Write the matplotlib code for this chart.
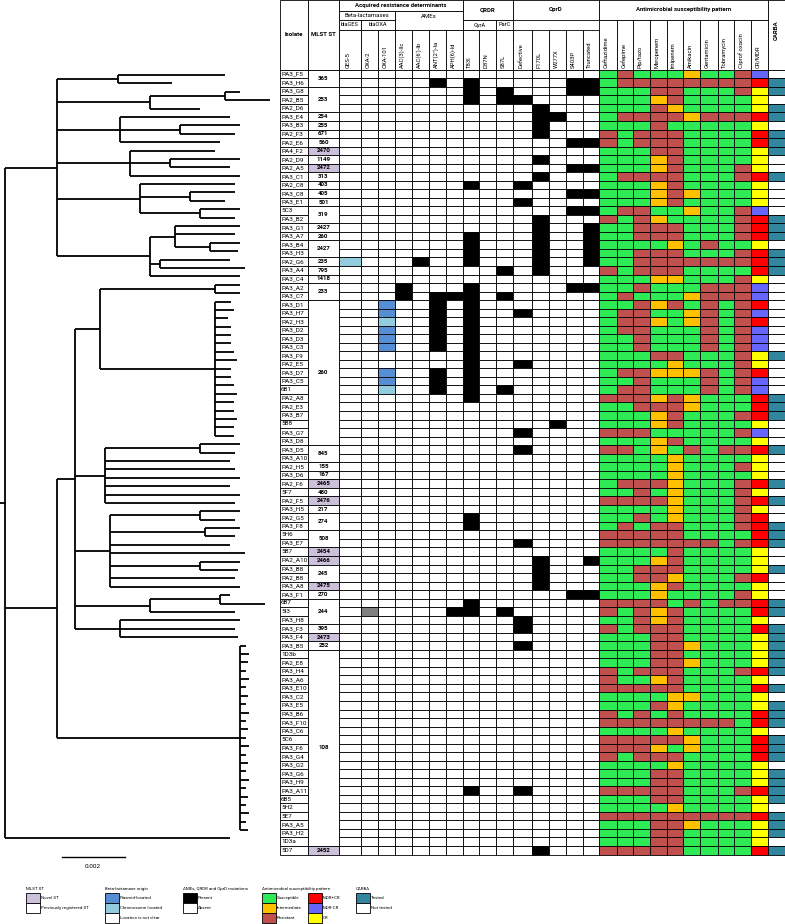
import matplotlib
matplotlib.use('Agg')
import matplotlib.pyplot as plt
from matplotlib.patches import Rectangle

plt.rcParams['font.family'] = ['Roboto', 'DejaVu Sans']

isolates = ['PA3_F5', 'PA3_H6', 'PA3_G8', 'PA2_B5', 'PA2_D6', 'PA3_E4', 'PA3_B3', 'PA2_F3', 'PA2_E6', 'PA4_F2',
            'PA2_D9', 'PA2_A5', 'PA3_C1', 'PA2_C8', 'PA3_C8', 'PA3_E1', '5C3', 'PA3_B2', 'PA3_G1', 'PA3_A7',
            'PA3_B4', 'PA3_H3', 'PA2_G6', 'PA3_A4', 'PA3_C4', 'PA3_A2', 'PA3_C7', 'PA3_D1', 'PA3_H7', 'PA2_H3',
            'PA3_D2', 'PA3_D3', 'PA3_C3', 'PA3_F9', 'PA2_E5', 'PA3_D7', 'PA3_C5', '6B1', 'PA2_A8', 'PA2_E3',
            'PA3_B7', '5B8', 'PA3_G7', 'PA3_D8', 'PA3_D5', 'PA3_A10', 'PA2_H5', 'PA3_D6', 'PA2_F6', '5F7',
            'PA2_F5', 'PA3_H5', 'PA2_G5', 'PA3_F8', '5H6', 'PA3_E7', '5B7', 'PA2_A10', 'PA3_B8', 'PA2_B8',
            'PA3_A8', 'PA3_F1', '6B7', '5I3', 'PA3_H8', 'PA3_F3', 'PA3_F4', 'PA3_B5', '1D3b', 'PA2_E8',
            'PA3_H4', 'PA3_A6', 'PA3_E10', 'PA3_C2', 'PA3_E5', 'PA3_B6', 'PA3_F10', 'PA3_C6', '5C6', 'PA3_F6',
            'PA3_G4', 'PA3_G2', 'PA3_G6', 'PA3_H9', 'PA3_A11', '6B5', '5H2', '5E7', 'PA3_A5', 'PA3_H2',
            '1D3a', '5D7']

# MLST ST, merged over consecutive rows
mlst_st = ['365', '253', '254', '255', '671', '560', '2470', '1149', '2472', '313', '403', '405', '501',
           '319', '2427', '260', '2427', '235', '795', '1418', '233', '260', '845', '155', '167', '2465',
           '480', '2476', '217', '274', '508', '2454', '2466', '245', '2475', '270', '244', '395', '2473',
           '252', '108', '2452']
mlst_span = [2, 3, 1, 1, 1, 1, 1, 1, 1, 1, 1, 1, 1, 2, 1, 1, 2, 1, 1, 1, 2, 17, 2, 1, 1, 1, 1, 1, 1,
             2, 2, 1, 1, 2, 1, 1, 3, 1, 1, 1, 23, 1]
novel_st = ['2470', '2472', '2465', '2476', '2454', '2466', '2475', '2473', '2452']

# beta-lactamases: P plasmid, C chromosome, U unclear
ges5 = {'PA2_G6': 'C'}
oxa2 = {'5I3': 'U'}
oxa101 = {'PA3_D1': 'P', 'PA3_H7': 'P', 'PA2_H3': 'C', 'PA3_D2': 'P', 'PA3_D3': 'P', 'PA3_C3': 'P',
          'PA3_D7': 'P', 'PA3_C5': 'P', '6B1': 'C'}

aac3 = ['PA3_A2', 'PA3_C7']
aac6 = ['PA2_G6']
ant2 = ['PA3_H6', 'PA3_C7', 'PA3_D1', 'PA3_H7', 'PA2_H3', 'PA3_D2', 'PA3_D3', 'PA3_C3', 'PA3_D7',
        'PA3_C5', '6B1']
aph6 = ['PA3_C7', '5I3']
t83i = ['PA3_H6', 'PA3_G8', 'PA2_B5', 'PA2_C8', 'PA3_A7', 'PA3_B4', 'PA3_H3', 'PA2_G6', 'PA3_A2',
        'PA3_C7', 'PA3_D1', 'PA3_H7', 'PA2_H3', 'PA3_D2', 'PA3_D3', 'PA3_C3', 'PA3_F9', 'PA2_E5',
        'PA3_D7', 'PA3_C5', '6B1', 'PA2_A8', 'PA2_G5', 'PA3_F8', '6B7', '5I3', 'PA3_A11']
d87n = []
s87l = ['PA3_G8', 'PA2_B5', 'PA3_A4', 'PA3_C7', '6B1', '5I3']
defective = ['PA2_B5', 'PA2_C8', 'PA3_E1', 'PA3_H7', 'PA2_E5', 'PA3_G7', 'PA3_D5', 'PA3_E7', 'PA3_H8',
             'PA3_F3', 'PA3_B5', 'PA3_A11']
f170l = ['PA2_D6', 'PA3_E4', 'PA3_B3', 'PA2_F3', 'PA2_D9', 'PA3_C1', 'PA3_B2', 'PA3_G1', 'PA3_A7',
         'PA3_B4', 'PA3_H3', 'PA2_G6', 'PA3_A4', 'PA2_A10', 'PA3_B8', 'PA2_B8', 'PA3_A8', '5D7']
w277x = ['PA3_E4', '5B8']
s403p = ['PA3_H6', 'PA3_G8', 'PA2_E6', 'PA2_A5', 'PA3_C8', '5C3', 'PA3_A2', 'PA3_F1']
truncated = ['PA3_H6', 'PA3_G8', 'PA2_E6', 'PA2_A5', 'PA3_C8', '5C3', 'PA3_G1', 'PA3_A7', 'PA3_B4',
             'PA3_H3', 'PA2_G6', 'PA3_A2', 'PA2_A10', 'PA3_F1']

drugs = ['Ceftazidime', 'Cefepime', 'Pip/tazo', 'Meropenem', 'Imipenem', 'Amikacin', 'Gentamicin',
         'Tobramycin', 'Ciprof oxacin']
# S susceptible, I intermediate, R resistant (one letter per drug)
susceptibility = ['SRSSSISSR', 'SRRRRRRRR', 'SSSRRSSSR', 'SSSIRSSSS', 'SSSRISSSS', 'SRRRRIRRR', 'SSSRSSSSS',
                  'RSRRRSSSS', 'RSRRRSSSS', 'SSSRRSSSS', 'SSSIRSSSS', 'SSSIRSSSR', 'SRRRRSSSR', 'SSSIRSSSS',
                  'SSSIRISSS', 'SSSIRSSSS', 'SRRSSISSR', 'RSRISSSSR', 'SSRRRSSSR', 'SSRRRSSSR', 'SSSSISRSS',
                  'SSRRRSSSR', 'SSRRRRRRR', 'RSRRRSSSS', 'SSSIISSSR', 'SSRSSSRRR', 'SRSSSIRRR', 'SSRIRSRSR',
                  'SRRSSIRSR', 'SRRISIRSR', 'SRRSSSRSR', 'SSRSSSRSR', 'SSRSSSRSR', 'SSSRRSSSR', 'SSSSISSSR',
                  'SRRIIIRSR', 'SSRSSSRSR', 'SRRSSSRSR', 'RRRIRISSS', 'SSRRRISSS', 'SSSIRSSSR', 'SSSIRSSSS',
                  'RRRSSSSSR', 'SSSIRSSSS', 'RRSISRSRR', 'SSSSISSSS', 'SSSSISSSR', 'SSSSISSSS', 'SRRRISSSR',
                  'SSRSISSSR', 'RRRRISSSR', 'SSSSISSSR', 'SSRSISSSR', 'SRSRRSSSR', 'RRRRRSSSS', 'RRRRRRRSR',
                  'SSSSRSSSS', 'SSSIRSSSS', 'SSRRRSSSS', 'SSRRISSSR', 'SSSIRSSSS', 'SSSISSSSR', 'RRRRSRSRR',
                  'RSRIRSSSS', 'SSRIRSSSS', 'RSRRRSSSS', 'SSSRRSSSS', 'SSSRRISSS', 'SSSRRSSSS', 'SSSRRISSS',
                  'RSRRRSSSR', 'RSSIRSSSS', 'RRRRRSSSS', 'SSSSIISSS', 'SSSRISSSS', 'RSRSRSSSS', 'RRRRRRRRS',
                  'SSSSISSSS', 'RRRRRISSS', 'RRRISISSS', 'RSRRRSSSS', 'SSSSISSSS', 'SSSRRSSSS', 'SSSRRSSSS',
                  'RRRRRSSSR', 'SSSRRSSSS', 'SSSSISSSS', 'RRRRRRRRR', 'SSSRRISSS', 'SSSRRSSSS', 'SSSRRSSSS',
                  'RRRRRSSSS']
# M = MDR+CR, B = MDR-CR, C = CR
cr_mdr = ('BMCCCMCMMC' 'CCMCCCBMMM' 'CMMMCBBMBM' 'BBBCCMBBMM' 'MCBCMCCCMC'
          'MCMMMMCCCM' 'CCMMCMCCCC' 'MCMCCMMCMM' 'MCCCMCCMCC' 'CM')
carba = ('0110110111' '0010000111' '0111000000' '0001000011' '1000100010'
         '1001110010' '0011011111' '1010111011' '1011110111' '01')

# tree, branch lengths in units of 1e-4 substitutions/site
tree_a = ('((PA3_F5:33.9,PA3_H6:17.1):19.4,((PA3_G8:4.8,PA2_B5:14.3):23.8,PA2_D6:15.9):29.5,'
          '(PA3_E4:34.9,(PA3_B3:19,PA2_F3:17.4):19.1,PA2_E6:31.8):20,'
          '(PA4_F2:27,(PA2_D9:22.2,PA2_A5:19):12.7,PA3_C1:34.9):23.2,'
          '(PA2_C8:30.1,(PA3_C8:14.3,PA3_E1:11.1):15.8,(5C3:12.7,PA3_B2:11.1):19):26.4,'
          '((PA3_G1:20.6,PA3_A7:19,(PA3_B4:9.5,PA3_H3:8.9):11.1):8,(PA2_G6:22.2,PA3_A4:27):3.2,'
          'PA3_C4:28.6):29.5):16.5')
tree_b = ('((((PA3_A2:7.9,PA3_C7:7.9):36.5,(PA3_D1:5,PA3_H7:6,PA2_H3:4,PA3_D2:5,PA3_D3:5,PA3_C3:5,'
          'PA3_F9:6,PA2_E5:7,PA3_D7:5,PA3_C5:5,6B1:6,PA2_A8:7,PA2_E3:6,PA3_B7:6,5B8:7,PA3_G7:6,'
          'PA3_D8:6):36.5):8,'
          '((PA3_D5:12.7,PA3_A10:11.1):30.2,PA2_H5:39.7,PA3_D6:41.3,PA2_F6:42.9,5F7:39.7,PA2_F5:42.9,'
          'PA3_H5:41.3):9.5,'
          '((PA2_G5:12.7,PA3_F8:11.1):28.6,(5H6:11.1,PA3_E7:9.5):30.2,5B7:38.1,PA2_A10:42.9,'
          '(PA3_B8:12.7,PA2_B8:12.1):28.6,PA3_A8:39.7,PA3_F1:41.3):11.1,'
          '((6B7:3.1,5I3:14.2):22.3,PA3_H8:27):23.8,(PA3_F3:38.1,PA3_F4:36.5,PA3_B5:37.5):14.3):5.7,'
          '(1D3b:2,PA2_E8:3,PA3_H4:2.5,PA3_A6:2,PA3_E10:3,PA3_C2:2,PA3_E5:2.5,PA3_B6:2,PA3_F10:3,'
          'PA3_C6:2,5C6:2.5,PA3_F6:2,PA3_G4:3,PA3_G2:2,PA3_G6:2.5,PA3_H9:2,PA3_A11:3,6B5:2,5H2:2.5,'
          '5E7:2,PA3_A5:3,PA3_H2:2,1D3a:2.5):58.1):16.5')
newick = '(' + tree_a + ',' + tree_b + ',5D7:71.4);'

colors = {'S': '#2EEB55', 'I': '#FFC000', 'R': '#C0504D', 'M': '#FF0000', 'B': '#6666FF', 'C': '#FFFF00',
          'P': '#558ED5', 'Cb': '#93CDDD', 'U': '#808080', 'teal': '#31859C', 'novel': '#CCC0DA'}

fig = plt.figure(figsize=(7.85, 9.24), dpi=100)
ax = fig.add_axes([0, 0, 1, 1])
ax.set_xlim(0, 785)
ax.set_ylim(924, 0)
ax.axis('off')

y0, rh = 69.8, 8.53
row = {n: i for i, n in enumerate(isolates)}
edges = [339, 361, 378, 395, 412, 429, 446, 463, 479, 496, 513, 532, 549, 566, 583,
         599, 617, 633, 650, 667, 683, 700, 718, 734, 751, 768, 785]
lw = 0.6


def cell(x1, x2, ya, yb, fc='white'):
    ax.add_patch(Rectangle((x1, ya), x2 - x1, yb - ya, facecolor=fc, edgecolor='black', lw=lw))


def ytop(i):
    return y0 + i * rh


# isolate names
for i, n in enumerate(isolates):
    cell(280, 308, ytop(i), ytop(i + 1))
    ax.text(281, ytop(i) + rh / 2, n, fontsize=4.6, va='center', ha='left')

# MLST
start = 0
for st, sp in zip(mlst_st, mlst_span):
    cell(308, 339, ytop(start), ytop(start + sp), colors['novel'] if st in novel_st else 'white')
    ax.text(323.5, ytop(start) + sp * rh / 2, st, fontsize=4.4, weight='bold', va='center', ha='center')
    start += sp

# binary columns
bl_cols = [ges5, oxa2, oxa101]
bin_cols = [aac3, aac6, ant2, aph6, t83i, d87n, s87l, defective, f170l, w277x, s403p, truncated]
for i, n in enumerate(isolates):
    for j, d in enumerate(bl_cols):
        code = d.get(n)
        fc = 'white' if code is None else (colors['Cb'] if code == 'C' else colors[code])
        cell(edges[j], edges[j + 1], ytop(i), ytop(i + 1), fc)
    for j, lst in enumerate(bin_cols):
        cell(edges[j + 3], edges[j + 4], ytop(i), ytop(i + 1), 'black' if n in lst else 'white')
    for j, c in enumerate(susceptibility[i]):
        cell(edges[j + 15], edges[j + 16], ytop(i), ytop(i + 1), colors[c])
    cell(edges[24], edges[25], ytop(i), ytop(i + 1), colors[cr_mdr[i]])
    cell(edges[25], edges[26], ytop(i), ytop(i + 1), colors['teal'] if carba[i] == '1' else 'white')

# header
hb = dict(fontsize=4.3, weight='bold', ha='center', va='center')
cell(280, 308, 0, y0)
cell(308, 339, 0, y0)
ax.text(294, 34, 'Isolate', **hb)
ax.text(323.5, 34, 'MLST ST', **hb)
cell(339, 463, 0, 11)
ax.text(401, 5.5, 'Acquired resistance determinants', **hb)
cell(339, 395, 11, 20)
ax.text(367, 15.5, 'Beta-lactamases', fontsize=4.3, ha='center', va='center')
cell(395, 463, 11, 29.5)
ax.text(429, 16, 'AMEs', fontsize=4.3, ha='center', va='center')
cell(339, 361, 20, 29.5)
ax.text(350, 25, 'blaGES', fontsize=4.1, ha='center', va='center')
cell(361, 395, 20, 29.5)
ax.text(378, 25, 'blaOXA', fontsize=4.1, ha='center', va='center')
cell(463, 513, 0, 20)
ax.text(488, 10, 'QRDR', **hb)
cell(463, 496, 20, 29.5)
ax.text(479.5, 25, 'GyrA', fontsize=4.1, ha='center', va='center')
cell(496, 513, 20, 29.5)
ax.text(504.5, 25, 'ParC', fontsize=4.1, ha='center', va='center')
cell(513, 599, 0, 20)
ax.text(556, 10, 'OprD', **hb)
cell(599, 768, 0, 20)
ax.text(683.5, 10, 'Antimicrobial susceptibility pattern', **hb)
cell(768, 785, 0, y0)
ax.text(776.5, 30, 'CARBA', fontsize=4.3, weight='bold', rotation=90, ha='center', va='center')

col_names = ['GES-5', 'OXA-2', 'OXA-101', 'AAC(3)-IIc', "AAC(6')-Ib", "ANT(2'')-Ia", 'APH(6)-Id',
             'T83I', 'D87N', 'S87L', 'Defective', 'F170L', 'W277X', 'S403P', 'Truncated'] + drugs + ['CR/MDR']
for j, name in enumerate(col_names):
    ya = 29.5 if j < 15 else 20
    cell(edges[j], edges[j + 1], ya, y0)
    ax.text((edges[j] + edges[j + 1]) / 2 - 1.5, y0 - 2, name, fontsize=4.2, rotation=90,
            rotation_mode='anchor', ha='left', va='center')


# tree
def parse(s):
    pos = [0]

    def node():
        kids = []
        name = ''
        if s[pos[0]] == '(':
            pos[0] += 1
            while True:
                kids.append(node())
                if s[pos[0]] == ',':
                    pos[0] += 1
                    continue
                pos[0] += 1
                break
        while s[pos[0]] not in ':,);':
            name += s[pos[0]]
            pos[0] += 1
        length = 0.0
        if s[pos[0]] == ':':
            pos[0] += 1
            num = ''
            while s[pos[0]] not in ',);':
                num += s[pos[0]]
                pos[0] += 1
            length = float(num)
        return {'name': name, 'len': length, 'kids': kids}
    return node()


px_per_unit = 63 / 20   # scale bar 0.002 = 20 units
tx0 = 5
leaf_y0, leaf_dy = 75, 8.39   # tree panel is a touch more compact than the table


def draw(nd, xp):
    x = xp + nd['len'] * px_per_unit
    if not nd['kids']:
        y = leaf_y0 + row[nd['name']] * leaf_dy
    else:
        ys = [draw(k, x) for k in nd['kids']]
        y = (min(ys) + max(ys)) / 2
        ax.plot([x, x], [min(ys), max(ys)], color='black', lw=1.3, solid_capstyle='butt')
    ax.plot([xp, x], [y, y], color='black', lw=1.3, solid_capstyle='butt')
    return y


root = parse(newick)
root['len'] = 0
ry = draw(root, tx0)
ax.plot([0, tx0], [ry, ry], color='black', lw=1.3)

# scale bar
ax.plot([62, 62 + 20 * px_per_unit], [857, 857], color='black', lw=1)
ax.text(93, 867, '0.002', fontsize=4.6, ha='center', va='center')

# legend
ls = dict(fontsize=3.2, ha='left', va='center')
legend = [
    (26, 'MLST ST', [(colors['novel'], 'Novel ST'), ('white', 'Previously registered ST')]),
    (105, 'Beta-lactamase origin', [(colors['P'], 'Plasmid-located'), (colors['Cb'], 'Chromosome located'),
                                    ('white', 'Location is not clear')]),
    (183, 'AMEs, QRDR and OprD mutations', [('black', 'Present'), ('white', 'Absent')]),
    (262, 'Antimicrobial susceptibility pattern', [(colors['S'], 'Susceptible'), (colors['I'], 'Intermediate'),
                                                   (colors['R'], 'Resistant')]),
    (308, None, [(colors['M'], 'MDR+CR'), (colors['B'], 'MDR-CR'), (colors['C'], 'CR')]),
    (356, 'CARBA', [(colors['teal'], 'Tested'), ('white', 'Not tested')]),
]
for lx, title, items in legend:
    if title:
        ax.text(lx, 889, title, **ls)
    for k, (fc, lab) in enumerate(items):
        cell(lx, lx + 14, 893 + k * 10, 903 + k * 10, fc)
        ax.text(lx + 15, 898 + k * 10, lab, **ls)

fig.savefig('out.png', dpi=100)
